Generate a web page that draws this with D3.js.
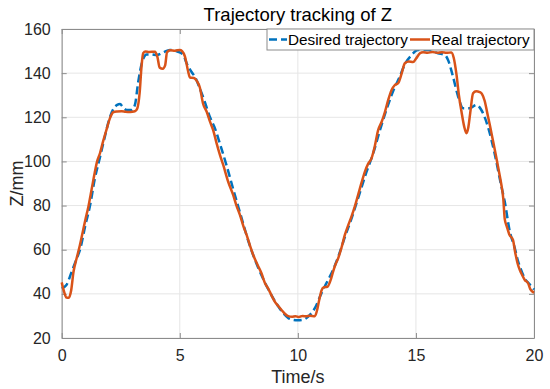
<!DOCTYPE html>
<html>
<head>
<meta charset="utf-8">
<script src="https://cdn.jsdelivr.net/npm/d3@7"></script>
<style>
html,body{margin:0;padding:0;background:#fff;}
svg{display:block;font-family:"Liberation Sans",Arial,Helvetica,sans-serif;}
</style>
</head>
<body>
<svg id="chart" width="550" height="389"></svg>
<script>
const xTicks = [0, 5, 10, 15, 20];
const yTicks = [20, 40, 60, 80, 100, 120, 140, 160];
const seriesNames = ["Desired trajectory", "Real trajectory"];

const desiredT = [0,0.2,0.42,0.6,0.8,1.0,1.2,1.4,1.6,1.8,2.04,2.2,2.35,2.47,2.6,2.75,2.96,3.1,3.24,3.41,3.6,3.8,4.02,4.3,4.58,4.93,5.15,5.29,5.5,5.64,5.85,6.06,6.28,6.49,6.7,7.0,7.3,7.6,7.9,8.2,8.5,8.8,9.1,9.4,9.6,9.8,10.0,10.2,10.44,10.72,11.0,11.28,11.5,11.71,12.0,12.3,12.6,12.9,13.2,13.5,13.8,14.1,14.3,14.53,14.8,15.09,15.52,15.94,16.23,16.36,16.57,16.79,17.0,17.28,17.56,17.77,18.05,18.33,18.62,18.76,18.97,19.18,19.32,19.45,19.61,19.8,19.96,20.0];
const desiredZ = [42.5,44,50,55,61,71,80,92,101,110,120,124,125.6,126,124.5,123.3,123.3,125.6,136,145.2,148.5,148.5,148.2,149.4,150.5,149.7,148.2,144.5,140.5,138.4,133,127,120,115,108,97.5,86,75,64,55,47.5,41,35.5,31,29,28.2,28,28.2,29.7,33.5,40.3,46.3,51,56.8,66,75,85,95,104,115,125,133.5,138,144,148,150.5,150.5,149,148.2,146,138.4,129.3,124.1,124.1,125.6,123.3,115.7,103.7,88.6,81.8,68.5,61,55,51,47,44.5,42.5,42];

const realT = [0,0.1,0.2,0.3,0.4,0.5,0.63,0.77,0.9,1.0,1.13,1.27,1.4,1.5,1.62,1.75,1.9,2.04,2.18,2.35,2.54,2.7,2.9,3.1,3.2,3.3,3.38,3.45,3.55,3.7,3.95,4.05,4.15,4.28,4.38,4.46,4.6,4.8,5.0,5.1,5.22,5.35,5.43,5.6,5.72,5.85,5.99,6.14,6.28,6.42,6.56,6.7,6.84,7.05,7.26,7.4,7.55,7.7,7.83,7.97,8.11,8.3,8.46,8.6,8.74,8.9,9.03,9.17,9.31,9.45,9.59,9.75,9.9,10.05,10.2,10.35,10.5,10.72,10.8,10.9,11.0,11.1,11.25,11.38,11.49,11.6,11.71,11.85,11.99,12.13,12.27,12.41,12.55,12.7,12.84,12.98,13.12,13.26,13.4,13.55,13.69,13.83,13.97,14.1,14.25,14.4,14.53,14.7,14.88,15.0,15.17,15.3,15.5,15.7,15.9,16.1,16.3,16.5,16.6,16.72,16.82,16.93,17.04,17.14,17.22,17.3,17.42,17.55,17.7,17.8,17.91,18.02,18.13,18.27,18.41,18.55,18.62,18.7,18.76,18.85,18.95,19.11,19.2,19.3,19.4,19.5,19.61,19.75,19.85,20.0];
const realZ = [45.2,41,38.3,38.2,41.5,50,56,62,68.5,73.5,79.5,87.5,95,100,103.7,109,114.5,119.5,122.3,122.6,122.7,122.5,122.4,122.7,124,131,143,149,149.8,149.6,149.7,147.5,142.5,142,143.5,149.5,150.4,150.2,150.5,150,147.5,141,138,137.8,136.5,133.5,126,122.5,118,114,108.2,103,98.4,90.8,84.8,80,75.7,70.5,66.7,62,57.6,53,49.3,45,42.5,39,36.4,34.5,32.7,31,29.9,29.6,29.9,29.5,30,29.8,30.1,29.9,32,37,41.5,43,43.2,46,50,53.5,56.2,61,66.7,71,75,79.5,84.8,90.5,95.4,99,101.4,107,114.2,118,122.5,128,132.4,134.5,135.5,140,144.5,145.3,145,146.5,149,149.5,149.2,149.6,149.2,149.5,149.2,149.4,147,139.2,130,122.5,116,112.8,115.5,122,130.9,131.8,131.4,130.5,127.5,122,116.5,109,101.4,93.5,89.3,83,74,70.5,67,64.4,59,54,50.8,48.5,46.3,44.8,42,40.5];

const W = 550, H = 389;
const m = {left: 61.7, right: 534, top: 29, bottom: 338};
const svg = d3.select("#chart");

const x = d3.scaleLinear().domain([0, 20]).range([m.left, m.right]);
const y = d3.scaleLinear().domain([20, 160]).range([m.bottom, m.top]);

// grid
const g = svg.append("g");
g.selectAll(".gx").data(xTicks).join("line")
  .attr("x1", d => x(d)).attr("x2", d => x(d))
  .attr("y1", m.top).attr("y2", m.bottom)
  .attr("stroke", "#e6e6e6").attr("stroke-width", 1);
g.selectAll(".gy").data(yTicks).join("line")
  .attr("x1", m.left).attr("x2", m.right)
  .attr("y1", d => y(d)).attr("y2", d => y(d))
  .attr("stroke", "#e6e6e6").attr("stroke-width", 1);

// axes
const axisColor = "#262626";
const xAxisB = svg.append("g").attr("transform", `translate(0,${m.bottom})`)
  .call(d3.axisBottom(x).tickValues(xTicks).tickSizeInner(-5).tickSizeOuter(0).tickPadding(12));
const xAxisT = svg.append("g").attr("transform", `translate(0,${m.top})`)
  .call(d3.axisTop(x).tickValues(xTicks).tickSizeInner(-5).tickSizeOuter(0).tickFormat(""));
const yAxisL = svg.append("g").attr("transform", `translate(${m.left},0)`)
  .call(d3.axisLeft(y).tickValues(yTicks).tickSizeInner(-5).tickSizeOuter(0).tickPadding(11));
const yAxisR = svg.append("g").attr("transform", `translate(${m.right},0)`)
  .call(d3.axisRight(y).tickValues(yTicks).tickSizeInner(-5).tickSizeOuter(0).tickFormat(""));
[xAxisB, xAxisT, yAxisL, yAxisR].forEach(a => {
  a.select(".domain").attr("stroke", "#8c8c8c").attr("stroke-width", 1);
  a.selectAll(".tick line").attr("stroke", "#8c8c8c");
  a.selectAll("text").attr("fill", axisColor).style("font-size", "16px")
    .style("font-family", '"Liberation Sans",Arial,sans-serif');
});
xAxisB.selectAll("text").attr("dy", "0.71em");

// lines
const lineGen = d3.line().x(d => x(d[0])).y(d => y(d[1])).curve(d3.curveMonotoneX);
const desired = desiredT.map((t, i) => [t, desiredZ[i]]);
const real = realT.map((t, i) => [t, realZ[i]]);

svg.append("path").datum(desired).attr("d", lineGen)
  .attr("fill", "none").attr("stroke", "#0072BD").attr("stroke-width", 2.5)
  .attr("stroke-dasharray", "8,4");
svg.append("path").datum(real).attr("d", lineGen)
  .attr("fill", "none").attr("stroke", "#D95319").attr("stroke-width", 2.5)
  .attr("stroke-linejoin", "round");

// title & labels
svg.append("text").attr("x", (m.left + m.right) / 2).attr("y", 21)
  .attr("text-anchor", "middle").style("font-size", "18.5px").attr("fill", "#000")
  .text("Trajectory tracking of Z");
svg.append("text").attr("x", (m.left + m.right) / 2).attr("y", 383)
  .attr("text-anchor", "middle").style("font-size", "18px").attr("fill", axisColor)
  .text("Time/s");
svg.append("text").attr("transform", `translate(23,${(m.top + m.bottom) / 2}) rotate(-90)`)
  .attr("text-anchor", "middle").style("font-size", "18px").attr("fill", axisColor)
  .text("Z/mm");

// legend
const lg = svg.append("g");
lg.append("rect").attr("x", 267).attr("y", 29).attr("width", 267).attr("height", 21)
  .attr("fill", "#fff").attr("stroke", "#8c8c8c").attr("stroke-width", 1);
const legendItems = [
  {name: seriesNames[0], color: "#0072BD", dash: "8,4", x0: 269, x1: 287, tx: 288},
  {name: seriesNames[1], color: "#D95319", dash: null, x0: 410, x1: 430, tx: 431}
];
legendItems.forEach(it => {
  lg.append("line").attr("x1", it.x0).attr("x2", it.x1).attr("y1", 39.5).attr("y2", 39.5)
    .attr("stroke", it.color).attr("stroke-width", 2.5)
    .attr("stroke-dasharray", it.dash);
  lg.append("text").attr("x", it.tx).attr("y", 45).style("font-size", "15.3px")
    .attr("fill", "#000").text(it.name);
});
</script>
</body>
</html>
